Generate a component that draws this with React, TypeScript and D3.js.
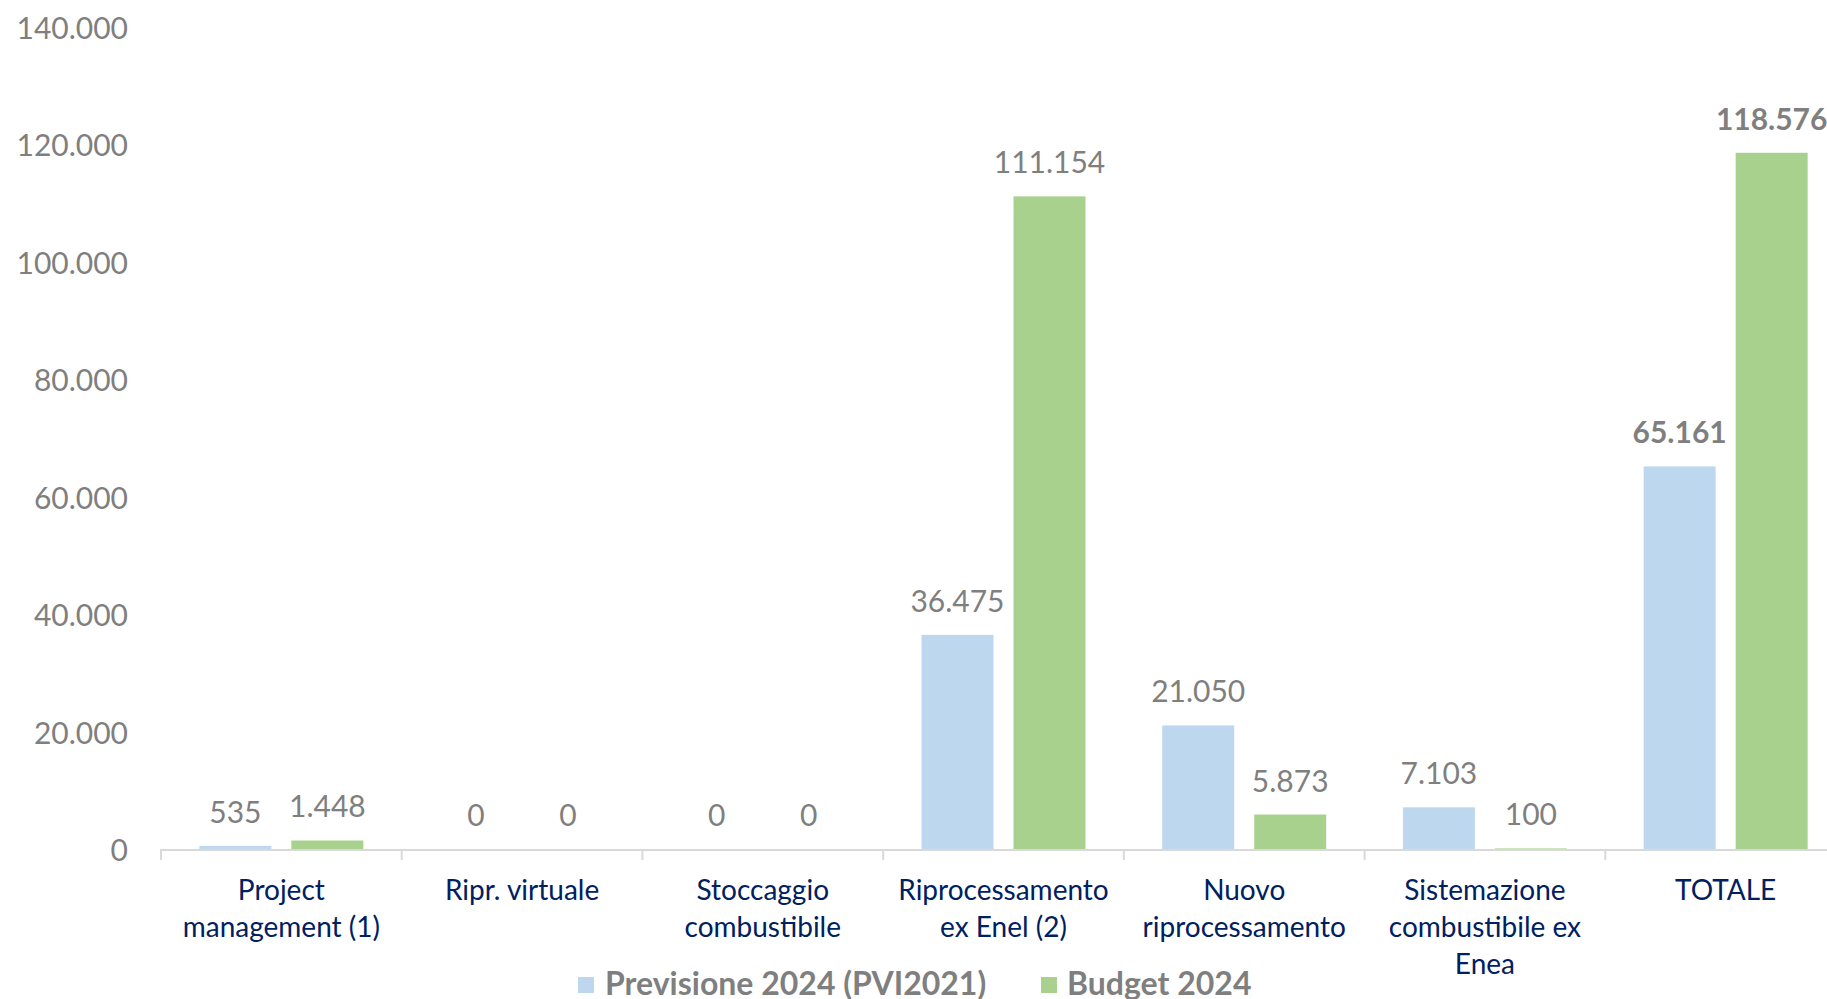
import React, { useEffect } from "react";
import * as d3 from "d3";

const categories = [
  "Project\nmanagement (1)",
  "Ripr. virtuale",
  "Stoccaggio\ncombustibile",
  "Riprocessamento\nex Enel (2)",
  "Nuovo\nriprocessamento",
  "Sistemazione\ncombustibile ex\nEnea",
  "TOTALE",
];
const seriesNames = ["Previsione 2024 (PVI2021)", "Budget 2024"];
const previsione = [535, 0, 0, 36475, 21050, 7103, 65161];
const budget = [1448, 0, 0, 111154, 5873, 100, 118576];
const yTicks = [0, 20000, 40000, 60000, 80000, 100000, 120000, 140000];

const W = 1827;
const H = 999;
const FONT = "Lato, 'Noto Sans', sans-serif";
const COLORS = ["#BDD7EE", "#A9D18E"];
const GRAY = "#7F7F7F";
const NAVY = "#002060";

const locale = d3.formatLocale({ decimal: ",", thousands: ".", grouping: [3], currency: ["", "€"] });
const fmt = locale.format(",.0f");

export default function App() {
  useEffect(() => {
    document.body.style.margin = "0";
    document.body.style.overflow = "hidden";
  }, []);

  const x0 = d3.scaleBand<string>().domain(categories).range([161, 1846]).padding(0);
  const groupW = 164;
  const x1 = d3.scaleBand<number>().domain([0, 1]).range([0, groupW]).paddingInner(0.2174).paddingOuter(0);
  const y = d3.scaleLinear().domain([0, 140000]).range([849, 27]);
  const series = [previsione, budget];
  const isTotal = (i: number) => categories[i] === "TOTALE";

  const tickXs = categories.map((c) => x0(c)!);

  return (
    <svg width={W} height={H} style={{ position: "absolute", left: 0, top: 0, background: "#fff" }} fontFamily={FONT}>
      {/* y tick labels */}
      {yTicks.map((t) => (
        <text key={t} x={128} y={y(t)} textAnchor="end" dominantBaseline="central" fontSize={30} fill={GRAY}>
          {fmt(t)}
        </text>
      ))}
      {/* bars */}
      {series.map((vals, si) =>
        vals.map((v, i) => {
          const gx = x0(categories[i])! + (x0.bandwidth() - groupW) / 2 + x1(si)!;
          return (
            <rect key={`${si}-${i}`} x={gx} y={y(v)} width={x1.bandwidth()} height={y(0) - y(v)} fill={COLORS[si]} />
          );
        })
      )}
      {/* axis line */}
      <line x1={161} x2={W} y1={y(0) + 1} y2={y(0) + 1} stroke="#D9D9D9" strokeWidth={2} />
      {tickXs.map((tx, i) => (
        <line key={i} x1={tx} x2={tx} y1={y(0)} y2={y(0) + 11} stroke="#D9D9D9" strokeWidth={2} />
      ))}
      {/* data labels */}
      {series.map((vals, si) =>
        vals.map((v, i) => {
          const cx = x0(categories[i])! + (x0.bandwidth() - groupW) / 2 + x1(si)! + x1.bandwidth() / 2;
          return (
            <text
              key={`l${si}-${i}`}
              x={cx}
              y={y(v) - 23}
              textAnchor="middle"
              fontSize={30}
              fontWeight={isTotal(i) ? 700 : 400}
              fill={GRAY}
            >
              {fmt(v)}
            </text>
          );
        })
      )}
      {/* category labels */}
      {categories.map((c) => {
        const cx = x0(c)! + x0.bandwidth() / 2;
        return (
          <text key={c} x={cx} y={900} textAnchor="middle" fontSize={28} fill={NAVY}>
            {c.split("\n").map((ln, li) => (
              <tspan key={li} x={cx} dy={li === 0 ? 0 : 37}>
                {ln}
              </tspan>
            ))}
          </text>
        );
      })}
      {/* legend */}
      <rect x={578} y={977} width={16} height={16} fill={COLORS[0]} />
      <text x={605} y={995} fontSize={32} fontWeight={700} fill={GRAY}>
        {seriesNames[0]}
      </text>
      <rect x={1041} y={977} width={16} height={16} fill={COLORS[1]} />
      <text x={1067} y={995} fontSize={32} fontWeight={700} fill={GRAY}>
        {seriesNames[1]}
      </text>
    </svg>
  );
}
